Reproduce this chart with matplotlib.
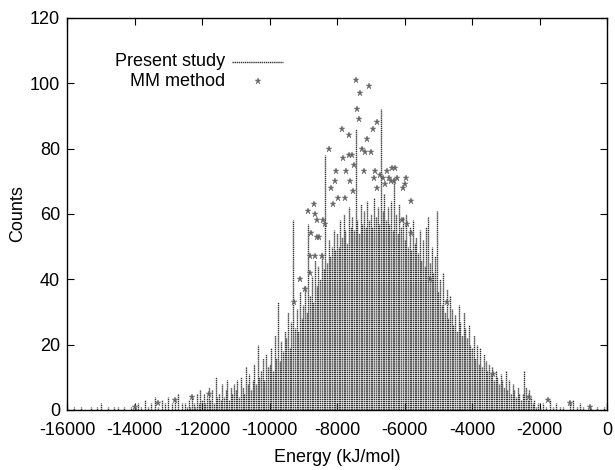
import numpy as np
import matplotlib
matplotlib.use("Agg")
import matplotlib.pyplot as plt

plt.rcParams['font.family'] = ['Liberation Sans', 'DejaVu Sans']
plt.rcParams['axes.unicode_minus'] = False

# ---- Present study: counts per energy bin ----
# left tail, bins every 100 kJ/mol from -16000 to -12600
tail_left_start, tail_left_step = -16000, 100
tail_left_counts = [1, 0, 1, 0, 1, 0, 0, 1, 0, 1,
                    2, 0, 1, 0, 1, 1, 0, 1, 0, 1,
                    1, 2, 1, 3, 1, 2, 4, 1, 3, 2,
                    4, 2, 3, 5, 2]
# core, bins every 50 kJ/mol from -12500 to -2000
core_start, core_step = -12500, 50
core_counts = [2, 1, 3, 1, 4, 2, 1, 5, 2, 6,
               3, 5, 2, 4, 7, 3, 6, 2, 10, 4,
               5, 3, 8, 4, 6, 9, 3, 7, 5, 8,
               6, 9, 4, 10, 7, 5, 13, 8, 11, 6,
               9, 14, 8, 20, 10, 12, 16, 9, 17, 13,
               14, 19, 12, 23, 16, 33, 15, 21, 18, 24,
               22, 30, 19, 27, 58, 25, 31, 24, 36, 28,
               32, 38, 30, 57, 35, 41, 33, 46, 38, 44,
               40, 48, 43, 78, 45, 52, 47, 50, 55, 49,
               54, 50, 58, 53, 60, 55, 51, 62, 56, 59,
               55, 86, 58, 54, 63, 57, 61, 56, 64, 58,
               60, 56, 65, 59, 62, 57, 92, 61, 66, 58,
               62, 57, 64, 55, 71, 60, 54, 63, 56, 59,
               52, 60, 50, 56, 49, 58, 51, 53, 48, 55,
               46, 52, 44, 56, 59, 45, 50, 42, 47, 61,
               36, 40, 32, 42, 30, 37, 28, 35, 31, 26,
               29, 24, 32, 27, 23, 30, 25, 22, 26, 20,
               19, 23, 16, 20, 14, 19, 13, 17, 15, 12,
               14, 11, 13, 9, 12, 10, 8, 11, 9, 7,
               12, 6, 9, 5, 8, 6, 4, 7, 5, 3,
               5, 12, 7, 3, 6, 4, 2, 3, 1, 2,
               1]
# right tail, bins every 100 kJ/mol from -1900 to 0
tail_right_start, tail_right_step = -1900, 100
tail_right_counts = [2, 1, 3, 1, 2, 1, 1, 0, 2, 3,
                     1, 2, 1, 0, 1, 0, 1, 0, 1, 2]

# ---- MM method points ----
mm_energy = [-7437, -7052, -7319, -7417, -7358, -6806, -6944, -7852, -7654, -7102,
             -8227, -7259, -7161, -7002, -7812, -7654, -7556, -7496, -8030, -7733,
             -7200, -6865, -6726, -6529, -6370, -6272, -6450, -6628, -6904, -8070,
             -7615, -6311, -6232, -5956, -6825, -6569, -6410, -6056, -5976, -8168,
             -7536, -7970, -7772, -8109, -5818, -8682, -8859, -8662, -8603, -8425,
             -6074, -5916, -8346, -8761, -8583, -8524, -5818, -8800, -8800, -9274,
             -9096, -8939, -8650, -8450, -3378, -4750, -5244,
             -14000, -13300, -12800, -12300, -11800, -2300, -1750, -1100, -500]
mm_counts = [101, 99, 97, 92, 89, 88, 86, 86, 84, 83,
             80, 80, 79, 79, 77, 78, 78, 75, 73, 73,
             73, 73, 72, 73, 74, 74, 71, 71, 71, 70,
             70, 70, 71, 71, 68, 69, 70, 68, 69, 68,
             67, 65, 65, 63, 64, 63, 61, 60, 58, 58,
             58, 57, 57, 54, 53, 53, 54, 47, 42, 33,
             40, 37, 47, 47, 11, 33, 40,
             1, 2, 3, 4, 5, 4, 3, 2, 1]

xticks = [-16000, -14000, -12000, -10000, -8000, -6000, -4000, -2000, 0]
yticks = [0, 20, 40, 60, 80, 100, 120]

energy = np.concatenate([
    tail_left_start + tail_left_step * np.arange(len(tail_left_counts)),
    core_start + core_step * np.arange(len(core_counts)),
    tail_right_start + tail_right_step * np.arange(len(tail_right_counts)),
])
counts = np.concatenate([tail_left_counts, core_counts, tail_right_counts])

fig = plt.figure(figsize=(6.15, 4.7), dpi=100)
ax = fig.add_axes([0.109, 0.128, 0.878, 0.834])

line_style = dict(colors='#333333', linewidth=1.0, linestyles=(0, (1, 0.5)))
ax.vlines(energy, 0, counts, **line_style)
ax.plot(mm_energy, mm_counts, linestyle='none', marker='*', markersize=4.5,
        color='#666666', markeredgewidth=0.3)

ax.set_xlim(-16000, 0)
ax.set_ylim(0, 120)
ax.set_xticks(xticks)
ax.set_yticks(yticks)
ax.tick_params(direction='in', top=True, right=True, length=5, width=0.8, labelsize=13)
ax.tick_params(axis='x', pad=9)
ax.tick_params(axis='y', pad=5)
for s in ax.spines.values():
    s.set_linewidth(1.0)

ax.set_xlabel('Energy (kJ/mol)', fontsize=13, labelpad=7)
ax.set_ylabel('Counts', fontsize=13, labelpad=3)

# legend (gnuplot style: right-aligned text, sample to the right)
ax.text(0.293, 0.888, 'Present study', transform=ax.transAxes, ha='right', va='center', fontsize=13)
ax.plot([0.305, 0.40], [0.888, 0.888], transform=ax.transAxes, color='#333333', linewidth=1.0,
        linestyle=(0, (1, 0.5)))
ax.text(0.293, 0.838, 'MM method', transform=ax.transAxes, ha='right', va='center', fontsize=13)
ax.plot([0.353], [0.838], transform=ax.transAxes, linestyle='none', marker='*', markersize=4.5,
        color='#666666', markeredgewidth=0.3)

fig.savefig('out.png', dpi=100)
